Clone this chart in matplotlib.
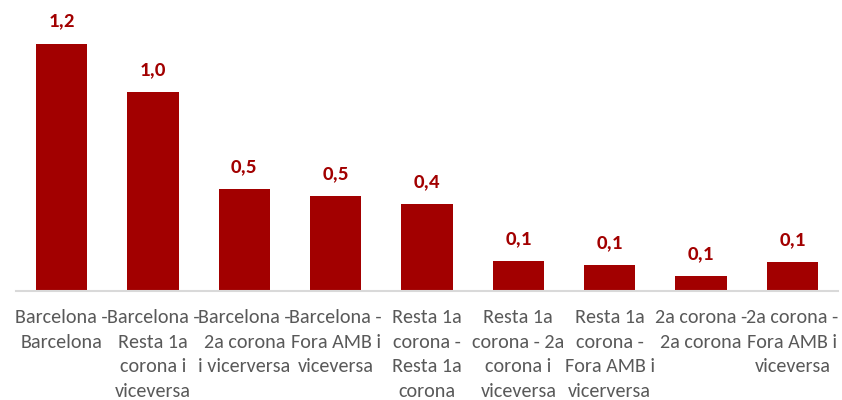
import matplotlib
matplotlib.use('Agg')
import matplotlib.pyplot as plt
import numpy as np

categories = [
    'Barcelona -\nBarcelona',
    'Barcelona -\nResta 1a\ncorona i\nviceversa',
    'Barcelona -\n2a corona\ni vicerversa',
    'Barcelona -\nFora AMB i\nviceversa',
    'Resta 1a\ncorona -\nResta 1a\ncorona',
    'Resta 1a\ncorona - 2a\ncorona i\nviceversa',
    'Resta 1a\ncorona -\nFora AMB i\nvicerversa',
    '2a corona -\n2a corona',
    '2a corona -\nFora AMB i\nviceversa',
]
values = [1.20, 0.965, 0.496, 0.461, 0.42, 0.144, 0.125, 0.074, 0.139]

red = '#A20000'
fonts = ['Carlito', 'Liberation Sans Narrow', 'Archivo Narrow', 'Liberation Sans']

fig = plt.figure(figsize=(8.42, 4.0), dpi=100)
ax = fig.add_axes([16 / 842, 109 / 400, 822 / 842, 291 / 400])

x = np.arange(len(values))
bars = ax.bar(x, values, width=0.56, color=red, zorder=2)

for xi, v in zip(x, values):
    ax.annotate(f'{v:.1f}'.replace('.', ','), (xi, v), xytext=(0, 10),
                textcoords='offset points', ha='center', va='bottom',
                color=red, fontsize=15, fontweight='bold', family=fonts)

ax.set_xlim(-0.5, len(values) - 0.5)
ax.set_ylim(0, 1.411)
ax.set_yticks([])
ax.set_xticks(x)
ax.set_xticklabels(categories, fontsize=14.5, color='#595959',
                   family=fonts, linespacing=1.55)
ax.tick_params(axis='x', length=0, pad=13)

for side in ['top', 'left', 'right']:
    ax.spines[side].set_visible(False)
ax.spines['bottom'].set_color('#D9D9D9')
ax.spines['bottom'].set_linewidth(1.5)

fig.savefig('out.png', dpi=100)
